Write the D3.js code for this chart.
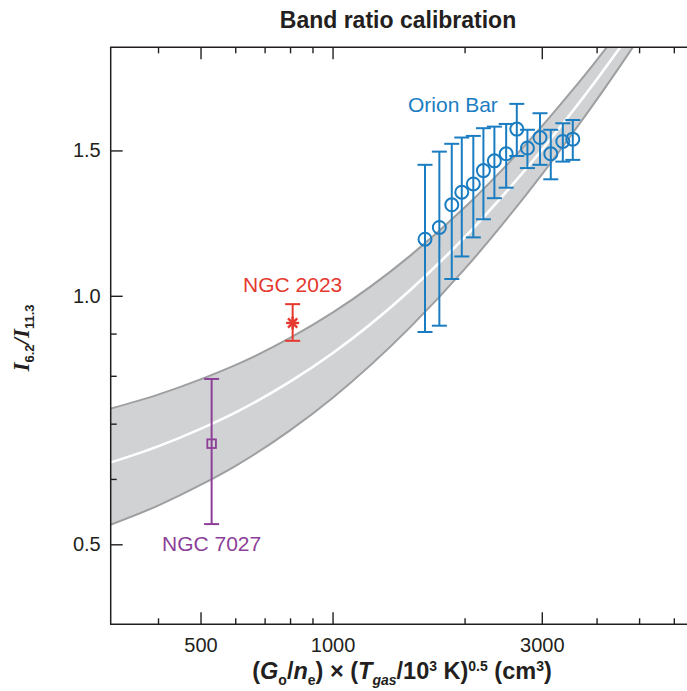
<!DOCTYPE html>
<html><head><meta charset="utf-8">
<script src="https://cdn.jsdelivr.net/npm/d3@7"></script>
<style>
body{margin:0;background:#fff}
svg{display:block}
text{font-family:"Liberation Sans",Arial,Helvetica,sans-serif;}
</style>
</head><body>
<svg id="chart" width="687" height="691"></svg>
<script>
// ---- axis domains & ticks ----
const xDomain = [312, 6430];
const yDomain = [0.4, 2.0];
const xMajorTicks = [500, 1000, 3000];
const xMinorTicks = [400, 600, 700, 800, 900, 2000, 4000, 5000, 6000];
const yMajorTicks = [0.5, 1.0, 1.5];
const yMinorTicks = [0.6, 0.7, 0.8, 0.9];

// ---- calibration band ----
const bandX     = [300, 400, 500, 600, 800, 1000, 1500, 2000, 2500, 3000, 3500, 4000, 4500, 5000, 5500];
const bandMid   = [0.624, 0.657, 0.690, 0.722, 0.787, 0.852, 1.015, 1.177, 1.340, 1.502, 1.665, 1.827, 1.990, 2.152, 2.315];
const bandUpper = [0.726, 0.759, 0.792, 0.824, 0.889, 0.954, 1.117, 1.279, 1.442, 1.604, 1.767, 1.929, 2.092, 2.254, 2.417];
const bandLower = [0.524, 0.557, 0.590, 0.622, 0.687, 0.752, 0.915, 1.077, 1.240, 1.402, 1.565, 1.727, 1.890, 2.052, 2.215];

// ---- Orion Bar ----
const orionX  = [1625, 1752, 1870, 1971, 2094, 2208, 2339, 2488, 2631, 2782, 2972, 3145, 3350, 3530];
const orionY  = [1.171, 1.210, 1.289, 1.335, 1.366, 1.418, 1.457, 1.486, 1.592, 1.510, 1.555, 1.486, 1.538, 1.548];
const orionHi = [1.441, 1.495, 1.528, 1.555, 1.562, 1.596, 1.603, 1.615, 1.708, 1.589, 1.664, 1.589, 1.618, 1.633];
const orionLo = [0.904, 0.920, 1.048, 1.116, 1.177, 1.238, 1.313, 1.352, 1.477, 1.428, 1.441, 1.384, 1.454, 1.461];

// ---- NGC 2023 and NGC 7027 ----
const ngc2023X = [811],  ngc2023Y = [0.927], ngc2023Hi = [0.977], ngc2023Lo = [0.882];
const ngc7027X = [530],  ngc7027Y = [0.662], ngc7027Hi = [0.793], ngc7027Lo = [0.529];

const labels = {title: "Band ratio calibration", orion: "Orion Bar", n2023: "NGC 2023", n7027: "NGC 7027"};

// ---- styles ----
const INK = "#231f20", BLUE = "#1a7dc2", RED = "#e5392f", PURPLE = "#8d3f98";
const L = 110.7, R = 687, T = 47.3, B = 624.3;

const svg = d3.select("#chart");
const x = d3.scaleLog().domain(xDomain).range([L, R]);
const y = d3.scaleLog().domain(yDomain).range([B, T]);

svg.append("defs").append("clipPath").attr("id", "clip")
  .append("rect").attr("x", L).attr("y", T).attr("width", R - L).attr("height", B - T);

const plot = svg.append("g").attr("clip-path", "url(#clip)");
const idx = d3.range(bandX.length);

plot.append("path")
  .attr("d", d3.area().x(i => x(bandX[i])).y0(i => y(bandLower[i])).y1(i => y(bandUpper[i])).curve(d3.curveMonotoneX)(idx))
  .attr("fill", "#d1d2d4");
[bandUpper, bandLower].forEach(arr => {
  plot.append("path")
    .attr("d", d3.line().x(i => x(bandX[i])).y(i => y(arr[i])).curve(d3.curveMonotoneX)(idx))
    .attr("fill", "none").attr("stroke", "#9e9fa1").attr("stroke-width", 2);
});
plot.append("path")
  .attr("d", d3.line().x(i => x(bandX[i])).y(i => y(bandMid[i])).curve(d3.curveMonotoneX)(idx))
  .attr("fill", "none").attr("stroke", "#fff").attr("stroke-width", 2.6);

// ---- axes ----
function styleAxis(g) {
  g.select(".domain").remove();
  g.selectAll(".tick line").attr("stroke", INK).attr("stroke-width", 1.4);
  g.selectAll(".tick text").attr("fill", INK).style("font-size", "20px")
    .style("font-family", "'Liberation Sans',Arial,sans-serif");
}
svg.append("g").attr("transform", `translate(0,${B})`)
  .call(d3.axisBottom(x).tickValues(xMajorTicks).tickFormat(d3.format("d")).tickSizeInner(-12).tickSizeOuter(0).tickPadding(14))
  .call(styleAxis);
svg.append("g").attr("transform", `translate(0,${B})`)
  .call(d3.axisBottom(x).tickValues(xMinorTicks).tickFormat("").tickSizeInner(-6).tickSizeOuter(0))
  .call(styleAxis);
svg.append("g").attr("transform", `translate(0,${T})`)
  .call(d3.axisTop(x).tickValues(xMajorTicks).tickFormat("").tickSizeInner(-12).tickSizeOuter(0))
  .call(styleAxis);
svg.append("g").attr("transform", `translate(0,${T})`)
  .call(d3.axisTop(x).tickValues(xMinorTicks).tickFormat("").tickSizeInner(-6).tickSizeOuter(0))
  .call(styleAxis);
svg.append("g").attr("transform", `translate(${L},0)`)
  .call(d3.axisLeft(y).tickValues(yMajorTicks).tickFormat(d3.format(".1f")).tickSizeInner(-12).tickSizeOuter(0).tickPadding(10))
  .call(styleAxis);
svg.append("g").attr("transform", `translate(${L},0)`)
  .call(d3.axisLeft(y).tickValues(yMinorTicks).tickFormat("").tickSizeInner(-6).tickSizeOuter(0))
  .call(styleAxis);

svg.append("path").attr("d", `M${R},${T}H${L}V${B}H${R}`)
  .attr("fill", "none").attr("stroke", INK).attr("stroke-width", 1.5);

// ---- error bars helper ----
function errorBars(xs, ys, lo, hi, color, cap) {
  const g = svg.append("g").attr("stroke", color).attr("stroke-width", 2).attr("fill", "none");
  xs.forEach((xv, i) => {
    const px = x(xv);
    g.append("line").attr("x1", px).attr("x2", px).attr("y1", y(lo[i])).attr("y2", y(hi[i]));
    g.append("line").attr("x1", px - cap).attr("x2", px + cap).attr("y1", y(lo[i])).attr("y2", y(lo[i]));
    g.append("line").attr("x1", px - cap).attr("x2", px + cap).attr("y1", y(hi[i])).attr("y2", y(hi[i]));
  });
  return g;
}

// Orion Bar
errorBars(orionX, orionY, orionLo, orionHi, BLUE, 7.5);
svg.append("g").selectAll("circle").data(orionX).join("circle")
  .attr("cx", d => x(d)).attr("cy", (d, i) => y(orionY[i])).attr("r", 6.5)
  .attr("fill", "none").attr("stroke", BLUE).attr("stroke-width", 2);

// NGC 7027
errorBars(ngc7027X, ngc7027Y, ngc7027Lo, ngc7027Hi, PURPLE, 7.5);
svg.append("g").selectAll("rect").data(ngc7027X).join("rect")
  .attr("x", d => x(d) - 4.3).attr("y", (d, i) => y(ngc7027Y[i]) - 4.3)
  .attr("width", 8.6).attr("height", 8.6)
  .attr("fill", "none").attr("stroke", PURPLE).attr("stroke-width", 1.8);

// NGC 2023
errorBars(ngc2023X, ngc2023Y, ngc2023Lo, ngc2023Hi, RED, 7.5);
const star = svg.append("g").attr("stroke", RED).attr("stroke-width", 2.4).attr("stroke-linecap", "butt");
ngc2023X.forEach((xv, i) => {
  const cx = x(xv), cy = y(ngc2023Y[i]), r = 6.5;
  [0, 45, 90, 135].forEach(a => {
    const rad = a * Math.PI / 180;
    star.append("line")
      .attr("x1", cx - r * Math.cos(rad)).attr("y1", cy - r * Math.sin(rad))
      .attr("x2", cx + r * Math.cos(rad)).attr("y2", cy + r * Math.sin(rad));
  });
  star.append("circle").attr("cx", cx).attr("cy", cy).attr("r", 2.5).attr("fill", RED).attr("stroke", "none");
});

// ---- labels ----
svg.append("text").attr("x", 408).attr("y", 112).attr("fill", BLUE).style("font-size", "21px").text(labels.orion);
svg.append("text").attr("x", x(ngc2023X[0])).attr("y", 292).attr("text-anchor", "middle").attr("fill", RED).style("font-size", "21px").text(labels.n2023);
svg.append("text").attr("x", x(ngc7027X[0])).attr("y", 551).attr("text-anchor", "middle").attr("fill", PURPLE).style("font-size", "21px").text(labels.n7027);

svg.append("text").attr("x", 398).attr("y", 28).attr("text-anchor", "middle").attr("fill", INK)
  .style("font-size", "23px").style("font-weight", "bold").text(labels.title);

// x-axis title
const xt = svg.append("text").attr("x", 402).attr("y", 679).attr("text-anchor", "middle").attr("fill", INK)
  .style("font-size", "23.5px").style("font-weight", "bold");
const parts = [
  ["(", {}], ["G", {it: 1}], ["o", {sub: 1}], ["/", {}], ["n", {it: 1}], ["e", {sub: 1}], [") × (", {}],
  ["T", {it: 1}], ["gas", {sub: 1, it: 1}], ["/10", {}], ["3", {sup: 1}], [" K)", {}], ["0.5", {sup: 1}],
  [" (cm", {}], ["3", {sup: 1}], [")", {}]
];
let shift = 0;
parts.forEach(([t, o]) => {
  const target = o.sub ? 6 : o.sup ? -8 : 0;
  const ts = xt.append("tspan").attr("dy", target - shift).text(t);
  shift = target;
  if (o.it) ts.style("font-style", "italic");
  if (o.sub || o.sup) ts.style("font-size", "14px");
});

// y-axis title
const yt = svg.append("text").attr("transform", "translate(29,338) rotate(-90)").attr("text-anchor", "middle").attr("fill", INK);
const serif = "'Liberation Serif','Times New Roman',serif";
yt.append("tspan").style("font-family", serif).style("font-style", "italic").style("font-weight", "bold").style("font-size", "23px").text("I");
yt.append("tspan").attr("dy", 5).style("font-weight", "bold").style("font-size", "13px").text("6.2");
yt.append("tspan").attr("dy", -5).style("font-family", serif).style("font-style", "italic").style("font-weight", "bold").style("font-size", "23px").text("/I");
yt.append("tspan").attr("dy", 5).style("font-weight", "bold").style("font-size", "13px").text("11.3");
</script>
</body></html>
